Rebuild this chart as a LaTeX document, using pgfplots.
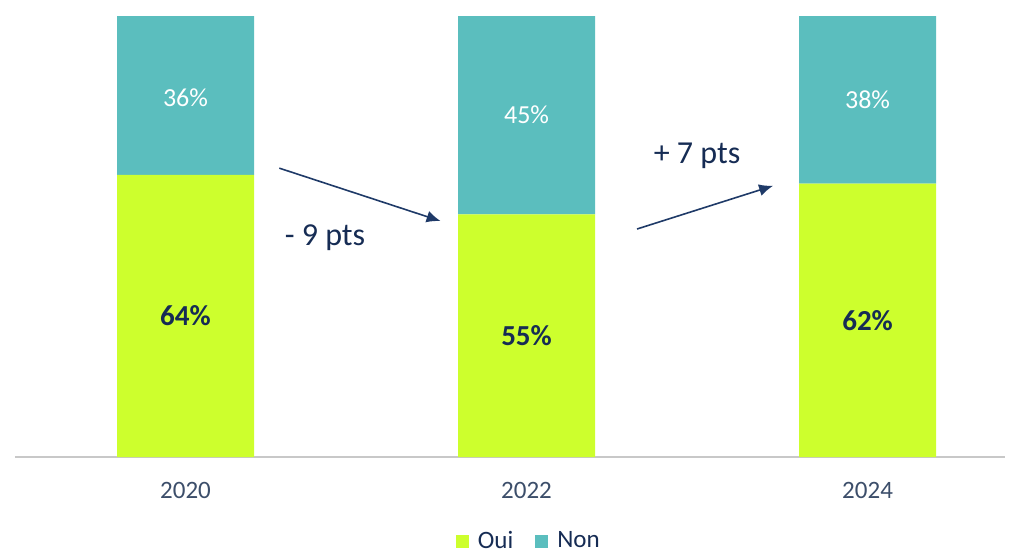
\documentclass[border=0pt]{standalone}
\usepackage{pgfplots}
\pgfplotsset{compat=1.18}
\usepackage{fontspec}
\setmainfont{Carlito}
\usetikzlibrary{arrows.meta}
\definecolor{oui}{RGB}{205,255,45}
\definecolor{non}{RGB}{91,190,190}
\definecolor{navy}{RGB}{22,44,84}
\definecolor{arrowc}{RGB}{31,58,104}
\definecolor{ticktext}{RGB}{60,78,106}
\definecolor{linegray}{RGB}{200,200,200}
\begin{document}
\begin{tikzpicture}[x=1pt,y=1pt]
\path[use as bounding box] (0,0) rectangle (509,276.5);
\begin{axis}[
  at={(7.5pt,48pt)}, anchor=south west,
  scale only axis, width=495pt, height=220.5pt,
  xmin=-0.5, xmax=2.403, ymin=0, ymax=100,
  ybar stacked, bar width=68.5pt,
  axis x line*=bottom, hide y axis,
  axis line style={draw=linegray, line width=0.8pt, -},
  xtick={0,1,2}, xticklabels={2020,2022,2024},
  major tick length=0pt,
  xticklabel style={font=\fontsize{12.5}{14}\selectfont, text=ticktext, yshift=-9pt},
  legend style={at={(0.52,0)}, anchor=center, yshift=-42pt, draw=none, fill=none,
    legend columns=2, font=\fontsize{12.5}{14}\selectfont, text=navy,
    /tikz/every odd column/.append style={column sep=2.5pt},
    /tikz/every even column/.append style={column sep=9pt}},
  legend image code/.code={\fill[#1] (0pt,-3.3pt) rectangle (6.5pt,3.2pt);},
  clip=false,
]
\addplot[fill=oui, draw=none] coordinates {(0,64) (1,55) (2,62)};
\addplot[fill=non, draw=none] coordinates {(0,36) (1,45) (2,38)};
\legend{Oui, Non}
\coordinate (o1) at (axis cs:0,32);
\coordinate (o2) at (axis cs:1,27.5);
\coordinate (o3) at (axis cs:2,31);
\coordinate (n1) at (axis cs:0,81.5);
\coordinate (n2) at (axis cs:1,77.5);
\coordinate (n3) at (axis cs:2,81);
\coordinate (a1s) at (axis cs:0.275,65.5);
\coordinate (a1e) at (axis cs:0.748,53.5);
\coordinate (a2s) at (axis cs:1.324,51.7);
\coordinate (a2e) at (axis cs:1.723,61.5);
\coordinate (l1) at (axis cs:0.409,49.7);
\coordinate (l2) at (axis cs:1.5,68.3);
\end{axis}
\node[font=\fontsize{14.5}{16}\selectfont\bfseries, text=navy] at (o1) {64\%};
\node[font=\fontsize{14.5}{16}\selectfont\bfseries, text=navy] at (o2) {55\%};
\node[font=\fontsize{14.5}{16}\selectfont\bfseries, text=navy] at (o3) {62\%};
\node[font=\fontsize{13}{15}\selectfont, text=white] at (n1) {36\%};
\node[font=\fontsize{13}{15}\selectfont, text=white] at (n2) {45\%};
\node[font=\fontsize{13}{15}\selectfont, text=white] at (n3) {38\%};
\draw[arrowc, line width=0.8pt, -{Latex[length=7pt,width=6pt]}] (a1s) -- (a1e);
\draw[arrowc, line width=0.8pt, -{Latex[length=7pt,width=6pt]}] (a2s) -- (a2e);
\node[font=\fontsize{16}{18}\selectfont, text=navy] at (l1) {- 9 pts};
\node[font=\fontsize{16}{18}\selectfont, text=navy] at (l2) {+ 7 pts};
\end{tikzpicture}
\end{document}
